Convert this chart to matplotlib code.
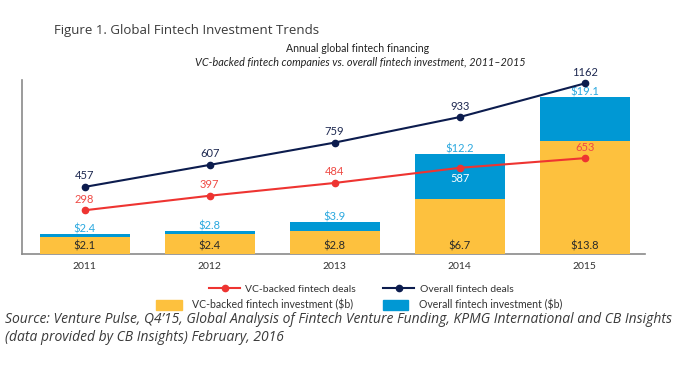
import matplotlib.pyplot as plt
from matplotlib.patches import Patch
from matplotlib.lines import Line2D

years = ["2011", "2012", "2013", "2014", "2015"]
vc_invest = [2.1, 2.4, 2.8, 6.7, 13.8]
overall_invest = [2.4, 2.8, 3.9, 12.2, 19.1]
vc_deals = [298, 397, 484, 587, 653]
overall_deals = [457, 607, 759, 933, 1162]

YELLOW = "#FDC13E"
BLUE = "#0098D4"
NAVY = "#0C1C4E"
RED = "#EE3431"
BLUE_TXT = "#2AA8DF"
RED_TXT = "#EF4A44"

plt.rcParams["font.family"] = ["Lato", "DejaVu Sans"]

fig = plt.figure(figsize=(7, 3.7), dpi=100)
ax = fig.add_axes([0.032, 0.3135, 0.889, 0.4705])
x = list(range(len(years)))

# stacked bars: overall drawn behind, vc in front
ax.bar(x, overall_invest, width=0.72, color=BLUE, zorder=2)
ax.bar(x, vc_invest, width=0.72, color=YELLOW, zorder=3)
ax.set_ylim(0, 21.2)
ax.set_xlim(-0.498, 4.48)
for i in x:
    ax.annotate(f"${overall_invest[i]}", (i, overall_invest[i]), xytext=(0, -0.5),
                textcoords="offset points", ha="center", va="bottom",
                fontsize=8, color=BLUE_TXT, zorder=5)
    ax.annotate(f"${vc_invest[i]}", (i, 0), xytext=(0, 1.5),
                textcoords="offset points", ha="center", va="bottom",
                fontsize=8, color="#2a2a2a", zorder=5)

ax.set_yticks([])
ax.set_xticks(x)
ax.set_xticklabels(years, fontsize=7.5, color="#333333")
ax.tick_params(axis="x", length=0, pad=6)
for s in ["top", "right"]:
    ax.spines[s].set_visible(False)
for s in ["left", "bottom"]:
    ax.spines[s].set_color("#8a8a8a")
    ax.spines[s].set_linewidth(1.2)

# deals on a second scale
ax2 = ax.twinx()
ax2.set_ylim(0, 1186)
ax2.set_yticks([])
for s in ax2.spines.values():
    s.set_visible(False)
ax2.plot(x, overall_deals, color=NAVY, lw=1.5, marker="o", ms=4.5, clip_on=False, zorder=4)
ax2.plot(x, vc_deals, color=RED, lw=1.5, marker="o", ms=4.5, clip_on=False, zorder=4)
for i in x:
    ax2.annotate(str(overall_deals[i]), (i, overall_deals[i]), xytext=(0, 4),
                 textcoords="offset points", ha="center", va="bottom",
                 fontsize=8, color="#1d2850")
    if years[i] == "2014":
        ax2.annotate(str(vc_deals[i]), (i, vc_deals[i]), xytext=(0, -4),
                     textcoords="offset points", ha="center", va="top",
                     fontsize=8, color="white", zorder=6)
    else:
        ax2.annotate(str(vc_deals[i]), (i, vc_deals[i]), xytext=(0, 4),
                     textcoords="offset points", ha="center", va="bottom",
                     fontsize=8, color=RED_TXT)

fig.text(0.077, 0.918, "Figure 1. Global Fintech Investment Trends",
         fontsize=9.5, color="#3a3a3a", family=["Open Sans", "DejaVu Sans"], va="center")
fig.text(0.511, 0.870, "Annual global fintech financing",
         fontsize=7.6, color="#222222", ha="center", va="center")
fig.text(0.514, 0.832, "VC-backed fintech companies vs. overall fintech investment, 2011\u20132015",
         fontsize=7.8, color="#222222", ha="center", va="center", style="italic")

line_handles = [
    Line2D([], [], color=RED, lw=1.5, marker="o", ms=4.5),
    Line2D([], [], color=NAVY, lw=1.5, marker="o", ms=4.5),
]
fig.legend(line_handles, ["VC-backed fintech deals", "Overall fintech deals"],
           loc="center", bbox_to_anchor=(0.516, 0.219), ncol=2, frameon=False,
           fontsize=7.5, handlelength=3.0, handletextpad=0.5, columnspacing=2.6,
           borderpad=0, labelcolor="#333333")
patch_handles = [Patch(color=YELLOW), Patch(color=BLUE)]
fig.legend(patch_handles, ["VC-backed fintech investment ($b)", "Overall fintech investment ($b)"],
           loc="center", bbox_to_anchor=(0.513, 0.176), ncol=2, frameon=False,
           fontsize=7.6, handlelength=2.4, handleheight=1.1, handletextpad=1.0,
           columnspacing=2.8, borderpad=0, labelcolor="#333333")

fig.text(0.007, 0.113,
         "Source: Venture Pulse, Q4\u201915, Global Analysis of Fintech Venture Funding, KPMG International and CB Insights\n"
         "(data provided by CB Insights) February, 2016",
         fontsize=10, color="#3a3a3a", style="italic", family=["Open Sans", "DejaVu Sans"],
         va="center", linespacing=1.3)

fig.savefig("out.png", dpi=100)
